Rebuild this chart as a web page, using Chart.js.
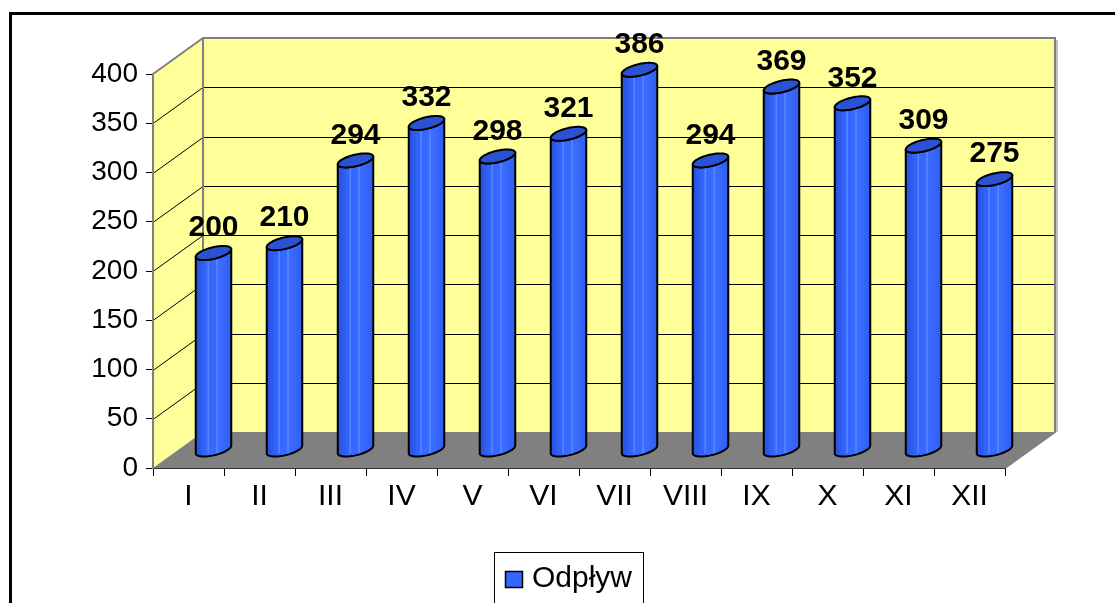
<!DOCTYPE html>
<html>
<head>
<meta charset="utf-8">
<script src="https://cdn.jsdelivr.net/npm/chart.js@4.4.1/dist/chart.umd.min.js"></script>
<style>
  body { margin: 0; background: #fff; }
  #wrap { width: 1115px; height: 603px; position: relative; }
</style>
</head>
<body>
<div id="wrap"><canvas id="myChart" width="1115" height="603"></canvas></div>
<script>
let months = ["I", "II", "III", "IV", "V", "VI", "VII", "VIII", "IX", "X", "XI", "XII"];
let outflow = [200, 210, 294, 332, 298, 321, 386, 294, 369, 352, 309, 275];
let seriesName = "Odpływ";
let yTicks = [0, 50, 100, 150, 200, 250, 300, 350, 400];

const DX = 50, DY = -36;   // depth of the 3d box
const FONT = "'Liberation Sans', Arial, sans-serif";

// walls, floor and gridlines behind everything
const box3d = {
  id: "box3d",
  beforeDraw(chart) {
    const ctx = chart.ctx;
    const a = chart.chartArea;
    const y = chart.scales.y;
    const L = a.left, R = a.right, T = a.top, B = a.bottom;
    ctx.save();
    // outer frame
    ctx.strokeStyle = "#000";
    ctx.lineWidth = 3;
    ctx.strokeRect(10.5, 13.5, 1200, 700);
    // back wall
    ctx.fillStyle = "#FFFF99";
    ctx.fillRect(L + DX, T + DY, R - L, B - T);
    // side wall
    ctx.beginPath();
    ctx.moveTo(L, T);
    ctx.lineTo(L + DX, T + DY);
    ctx.lineTo(L + DX, B + DY);
    ctx.lineTo(L, B);
    ctx.closePath();
    ctx.fill();
    // floor
    ctx.fillStyle = "#808080";
    ctx.beginPath();
    ctx.moveTo(L, B);
    ctx.lineTo(L + DX, B + DY);
    ctx.lineTo(R + DX, B + DY);
    ctx.lineTo(R, B);
    ctx.closePath();
    ctx.fill();
    // gridlines
    ctx.strokeStyle = "#000";
    ctx.lineWidth = 1;
    yTicks.forEach(v => {
      if (v === 0 || v === 400) return;
      const py = Math.round(y.getPixelForValue(v)) + 0.5;
      ctx.beginPath();
      ctx.moveTo(L, py);
      ctx.lineTo(L + DX, py + DY);
      ctx.lineTo(R + DX, py + DY);
      ctx.stroke();
    });
    // wall edges
    ctx.strokeStyle = "#808080";
    ctx.lineWidth = 2;
    ctx.beginPath();
    ctx.moveTo(L, T);
    ctx.lineTo(L + DX, T + DY);
    ctx.lineTo(R + DX, T + DY);
    ctx.lineTo(R + DX, B + DY);
    ctx.lineTo(R, B);
    ctx.moveTo(L + DX, T + DY);
    ctx.lineTo(L + DX, B + DY);
    ctx.stroke();
    ctx.strokeStyle = "#c0c0c0";
    ctx.lineWidth = 2;
    ctx.beginPath();
    ctx.moveTo(R + DX + 2, T + DY + 2);
    ctx.lineTo(R + DX + 2, B + DY);
    ctx.stroke();
    ctx.restore();
  }
};

function ellipsePt(cx, cy, r, a, b, t) {
  return [cx + r * Math.cos(t) + a * Math.sin(t), cy - b * Math.sin(t)];
}

// cylinders drawn on the bar elements, pushed half way into the box
const cylinders = {
  id: "cylinders",
  afterDatasetsDraw(chart) {
    const ctx = chart.ctx;
    const meta = chart.getDatasetMeta(0);
    const b = 7, a = 9.7;
    meta.data.forEach((bar, i) => {
      const W = bar.width / 2;
      const r = Math.sqrt(Math.max(W * W - a * a, 1));
      const phi = Math.atan2(a, r);
      const cx = bar.x + DX / 2;
      const ty = bar.y + DY / 2;
      const by = bar.base + DY / 2;
      const n = 40;
      ctx.save();
      // body
      ctx.beginPath();
      let p = ellipsePt(cx, ty, r, a, b, Math.PI + phi);
      ctx.moveTo(p[0], p[1]);
      for (let k = 0; k <= n; k++) {
        const t = Math.PI + phi + Math.PI * k / n;
        p = ellipsePt(cx, by, r, a, b, t);
        ctx.lineTo(p[0], p[1]);
      }
      for (let k = n; k >= 0; k--) {
        const t = Math.PI + phi + Math.PI * k / n;
        p = ellipsePt(cx, ty, r, a, b, t);
        ctx.lineTo(p[0], p[1]);
      }
      ctx.closePath();
      const g = ctx.createLinearGradient(cx - W, 0, cx + W, 0);
      g.addColorStop(0, "#2850DA");
      g.addColorStop(0.3, "#3366FF");
      g.addColorStop(0.7, "#3A6CFF");
      g.addColorStop(1, "#2E5CF0");
      ctx.fillStyle = g;
      ctx.fill();
      ctx.strokeStyle = "#000";
      ctx.lineWidth = 2;
      ctx.lineJoin = "round";
      ctx.stroke();
      // faint highlight lines
      ctx.strokeStyle = "rgba(150,180,255,0.6)";
      ctx.lineWidth = 1;
      [0.35, 0.6].forEach(f => {
        const x = cx - W + 2 * W * f;
        ctx.beginPath();
        ctx.moveTo(x, ty + 4);
        ctx.lineTo(x, by + 4);
        ctx.stroke();
      });
      // top
      ctx.beginPath();
      for (let k = 0; k <= 2 * n; k++) {
        p = ellipsePt(cx, ty, r, a, b, Math.PI * k / n);
        if (k === 0) ctx.moveTo(p[0], p[1]); else ctx.lineTo(p[0], p[1]);
      }
      ctx.closePath();
      ctx.fillStyle = "#2A52D2";
      ctx.fill();
      ctx.strokeStyle = "#000";
      ctx.lineWidth = 2;
      ctx.stroke();
      // value label
      ctx.fillStyle = "#000";
      ctx.font = "bold 30px " + FONT;
      ctx.textAlign = "center";
      ctx.textBaseline = "middle";
      ctx.fillText(String(outflow[i]), cx, ty - 25);
      ctx.restore();
    });
  },
  afterDraw(chart) {
    // legend box
    const ctx = chart.ctx;
    ctx.save();
    ctx.strokeStyle = "#000";
    ctx.lineWidth = 1;
    ctx.strokeRect(494.5, 552.5, 149, 80);
    ctx.fillStyle = "#3366FF";
    ctx.fillRect(505.5, 571.5, 17, 16);
    ctx.lineWidth = 1.5;
    ctx.strokeRect(505.5, 571.5, 17, 16);
    ctx.fillStyle = "#000";
    ctx.font = "30px " + FONT;
    ctx.textAlign = "left";
    ctx.textBaseline = "alphabetic";
    ctx.fillText(seriesName, 532, 587);
    ctx.restore();
  }
};

let ctx = document.getElementById("myChart").getContext("2d");
let myChart = new Chart(ctx, {
  type: "bar",
  data: {
    labels: months,
    datasets: [
      {
        label: seriesName,
        data: outflow,
        backgroundColor: "rgba(0,0,0,0)",
        borderWidth: 0,
        barPercentage: 0.5,
        categoryPercentage: 1
      }
    ]
  },
  options: {
    responsive: false,
    animation: false,
    devicePixelRatio: 1,
    layout: { padding: { left: 0, top: 74, right: 110, bottom: 0 } },
    plugins: { legend: { display: false }, tooltip: { enabled: false } },
    scales: {
      x: {
        afterFit(scale) { scale.height = 135; },
        grid: { drawOnChartArea: false, tickLength: 8, color: "#000", offset: true },
        border: { color: "#333", width: 1 },
        ticks: { color: "#000", font: { family: FONT, size: 30 }, padding: 3, maxRotation: 0 }
      },
      y: {
        min: 0,
        max: 400,
        afterFit(scale) { scale.width = 153; },
        afterBuildTicks(scale) { scale.ticks = yTicks.map(v => ({ value: v })); },
        grid: { drawOnChartArea: false, tickLength: 7, color: "#000" },
        border: { color: "#808080", width: 2 },
        ticks: { color: "#000", font: { family: FONT, size: 28 }, padding: 8 }
      }
    }
  },
  plugins: [box3d, cylinders]
});
</script>
</body>
</html>
